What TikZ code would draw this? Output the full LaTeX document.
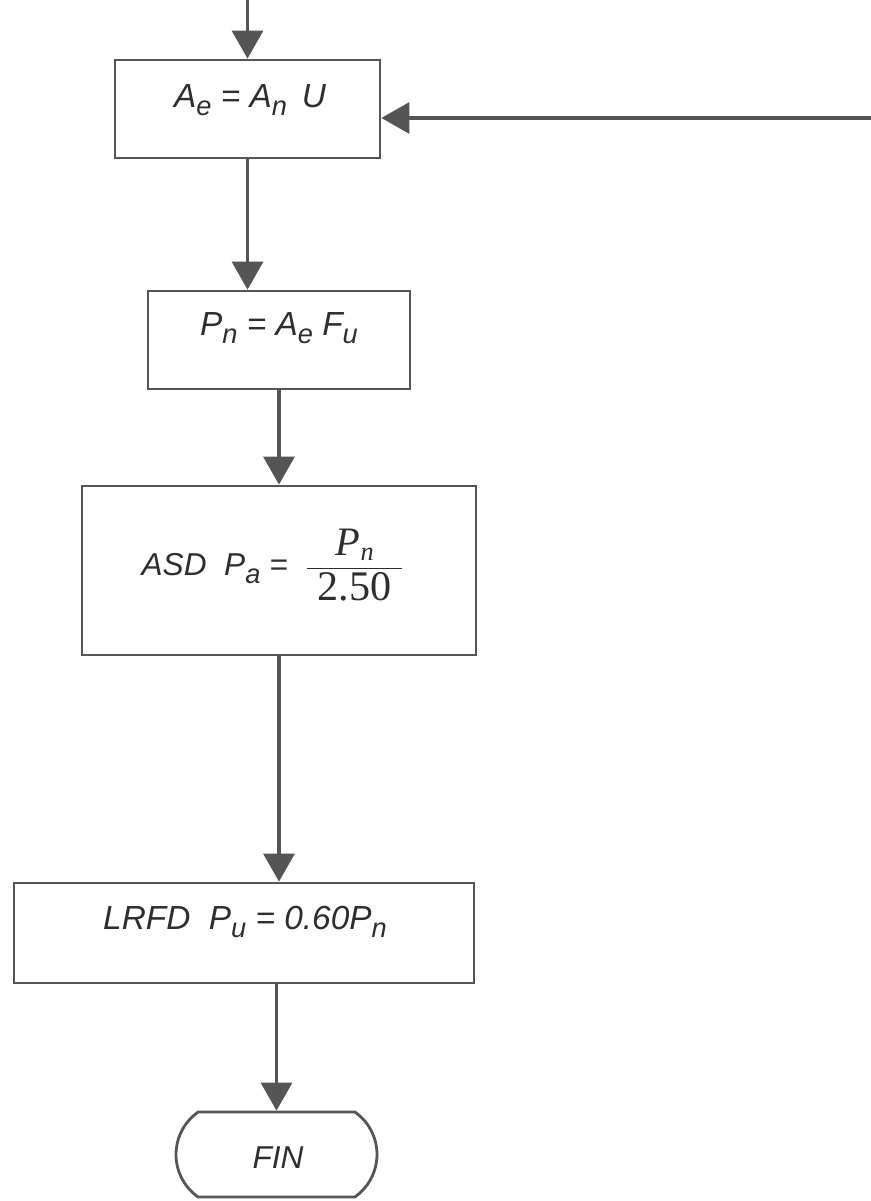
\documentclass[tikz,border=0pt]{standalone}
\usepackage{amsmath}
\usepackage{fontspec}
\setmainfont{Liberation Sans}
\newfontfamily\timesfont{Liberation Serif}
\usepackage{tikz}
\usetikzlibrary{arrows.meta,positioning,shapes.misc}

\definecolor{linegray}{HTML}{555555}
\definecolor{txtgray}{HTML}{2E2E2E}
\newcommand{\lowsub}[1]{\raisebox{-0.45ex}{\fontsize{15.5}{16}\selectfont #1}}

\begin{document}
\begin{tikzpicture}[
    box/.style={rectangle, draw=linegray, line width=1.6pt, inner sep=0pt},
    lbl/.style={font=\fontsize{19}{22}\selectfont\itshape, text=txtgray, inner sep=0pt},
    arrow/.style={-{Triangle[length=0.56cm, width=0.62cm]}, line width=1.9pt, draw=linegray, fill=linegray}
]
\useasboundingbox (0,0) rectangle (17.42,-24.02);

% Boxes
\node[box, minimum width=5.3cm, minimum height=1.96cm] (ae) at (4.95,-2.18) {};
\node[lbl] at (5.0,-2.0) {A\lowsub{e}\ =\ A\lowsub{n}\ \,U};

\node[box, minimum width=5.24cm, minimum height=1.96cm] (pn) at (5.58,-6.8) {};
\node[lbl] at (5.58,-6.56) {P\lowsub{n}\ =\ A\lowsub{e}\ F\lowsub{u}};

\node[box, minimum width=7.88cm, minimum height=3.38cm] (asd) at (5.58,-11.41) {};
\node[lbl, font=\fontsize{18}{21}\selectfont\itshape] at (5.46,-11.3)
    {ASD\ \ P\lowsub{a}\ =\hspace{0.35cm}$\dfrac{\mbox{\fontsize{23}{24}\selectfont\timesfont\itshape P\raisebox{-0.3ex}{\fontsize{15}{15}\selectfont n}}}{\mbox{\fontsize{24}{25}\selectfont\timesfont\upshape\ 2.50\ }}$};

\node[box, minimum width=9.2cm, minimum height=2.0cm] (lrfd) at (4.88,-18.66) {};
\node[lbl] at (4.9,-18.44) {LRFD\ \ P\lowsub{u}\ =\ 0.60P\lowsub{n}};

\node[rounded rectangle, rounded rectangle arc length=110, draw=linegray, line width=1.6pt,
      minimum width=4.02cm, minimum height=1.7cm, inner sep=0pt] (fin) at (5.53,-23.09) {};
\node[lbl, font=\fontsize{18}{21}\selectfont\itshape] at (5.56,-23.16) {FIN};

% Connectors
\coordinate (top) at (4.95,0);
\coordinate (back) at (17.42,-2.36);
\draw[arrow] (top) -- (top |- ae.north);
\draw[arrow] (back) -- (back -| ae.east);
\draw[arrow] (ae.south) -- (ae.south |- pn.north);
\draw[arrow] (pn.south) -- (asd.north);
\draw[arrow] (asd.south) -- (asd.south |- lrfd.north);
\draw[arrow] (fin.north |- lrfd.south) -- (fin.north);

\end{tikzpicture}
\end{document}
